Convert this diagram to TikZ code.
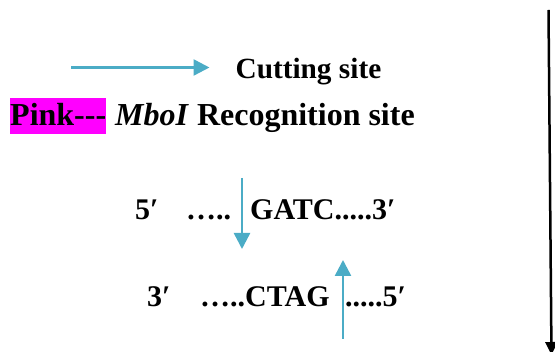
\documentclass[tikz,border=0pt]{standalone}
\usepackage{fontspec}
\setmainfont{Liberation Serif}
\usetikzlibrary{arrows.meta}
\definecolor{cutcyan}{HTML}{4BACC6}
\definecolor{pinkmark}{HTML}{FF00FF}
\begin{document}
\begin{tikzpicture}[x=1pt,y=-1pt,
  lbl/.style={inner sep=0pt, anchor=base west, font=\fontsize{29.3}{34}\selectfont\bfseries},
  leg/.style={inner sep=0pt, anchor=base west, font=\fontsize{32}{38}\selectfont\bfseries},
  seq/.style={inner sep=0pt, anchor=base west, font=\fontsize{30}{36}\selectfont\bfseries},
  cut/.style={draw=cutcyan, line width=2.5pt, -{Triangle[length=16pt,width=16pt]}},
  axis/.style={draw=black, line width=2.5pt, -{Triangle[length=13pt,width=12pt]}}]
\useasboundingbox (0,0) rectangle (555,352);
\clip (0,0) rectangle (555,352);

% legend: cutting-site arrow
\coordinate (k0) at (71,67.5);
\coordinate (k1) at (209.5,67.5);
\draw[cut] (k0) -- (k1);
\node[lbl] (cutlbl) at (235.4,78.8) {Cutting site};

% legend: recognition site highlight
\node[leg, fill=pinkmark, minimum width=95pt, text height=27.7pt, text depth=8.3pt] (pink) at (10,126) {Pink-{}-{}-};
\node[leg] (mboi) at (115,126) {\textit{MboI} Recognition site};

% top strand
\node[seq] (s5) at (135,220) {5′};
\node[seq] (d1) at (186,220) {…..};
\node[seq] (gatc) at (250,220) {GATC.....3′};

% bottom strand
\node[seq] (s3) at (147,307) {3′};
\node[seq] (ctag) at (200,307) {…..CTAG};
\node[seq] (d2) at (345,307) {.....5′};

% cut positions
\coordinate (a0) at (242,178);
\coordinate (a1) at (242,249);
\draw[cut] (a0) -- (a1);
\coordinate (b0) at (343,339);
\coordinate (b1) at (343,260);
\draw[cut] (b0) -- (b1);

% long vertical arrow at the right edge
\coordinate (v0) at (548.5,10);
\coordinate (v1) at (551.5,355);
\draw[axis] (v0) -- (v1);
\end{tikzpicture}
\end{document}
